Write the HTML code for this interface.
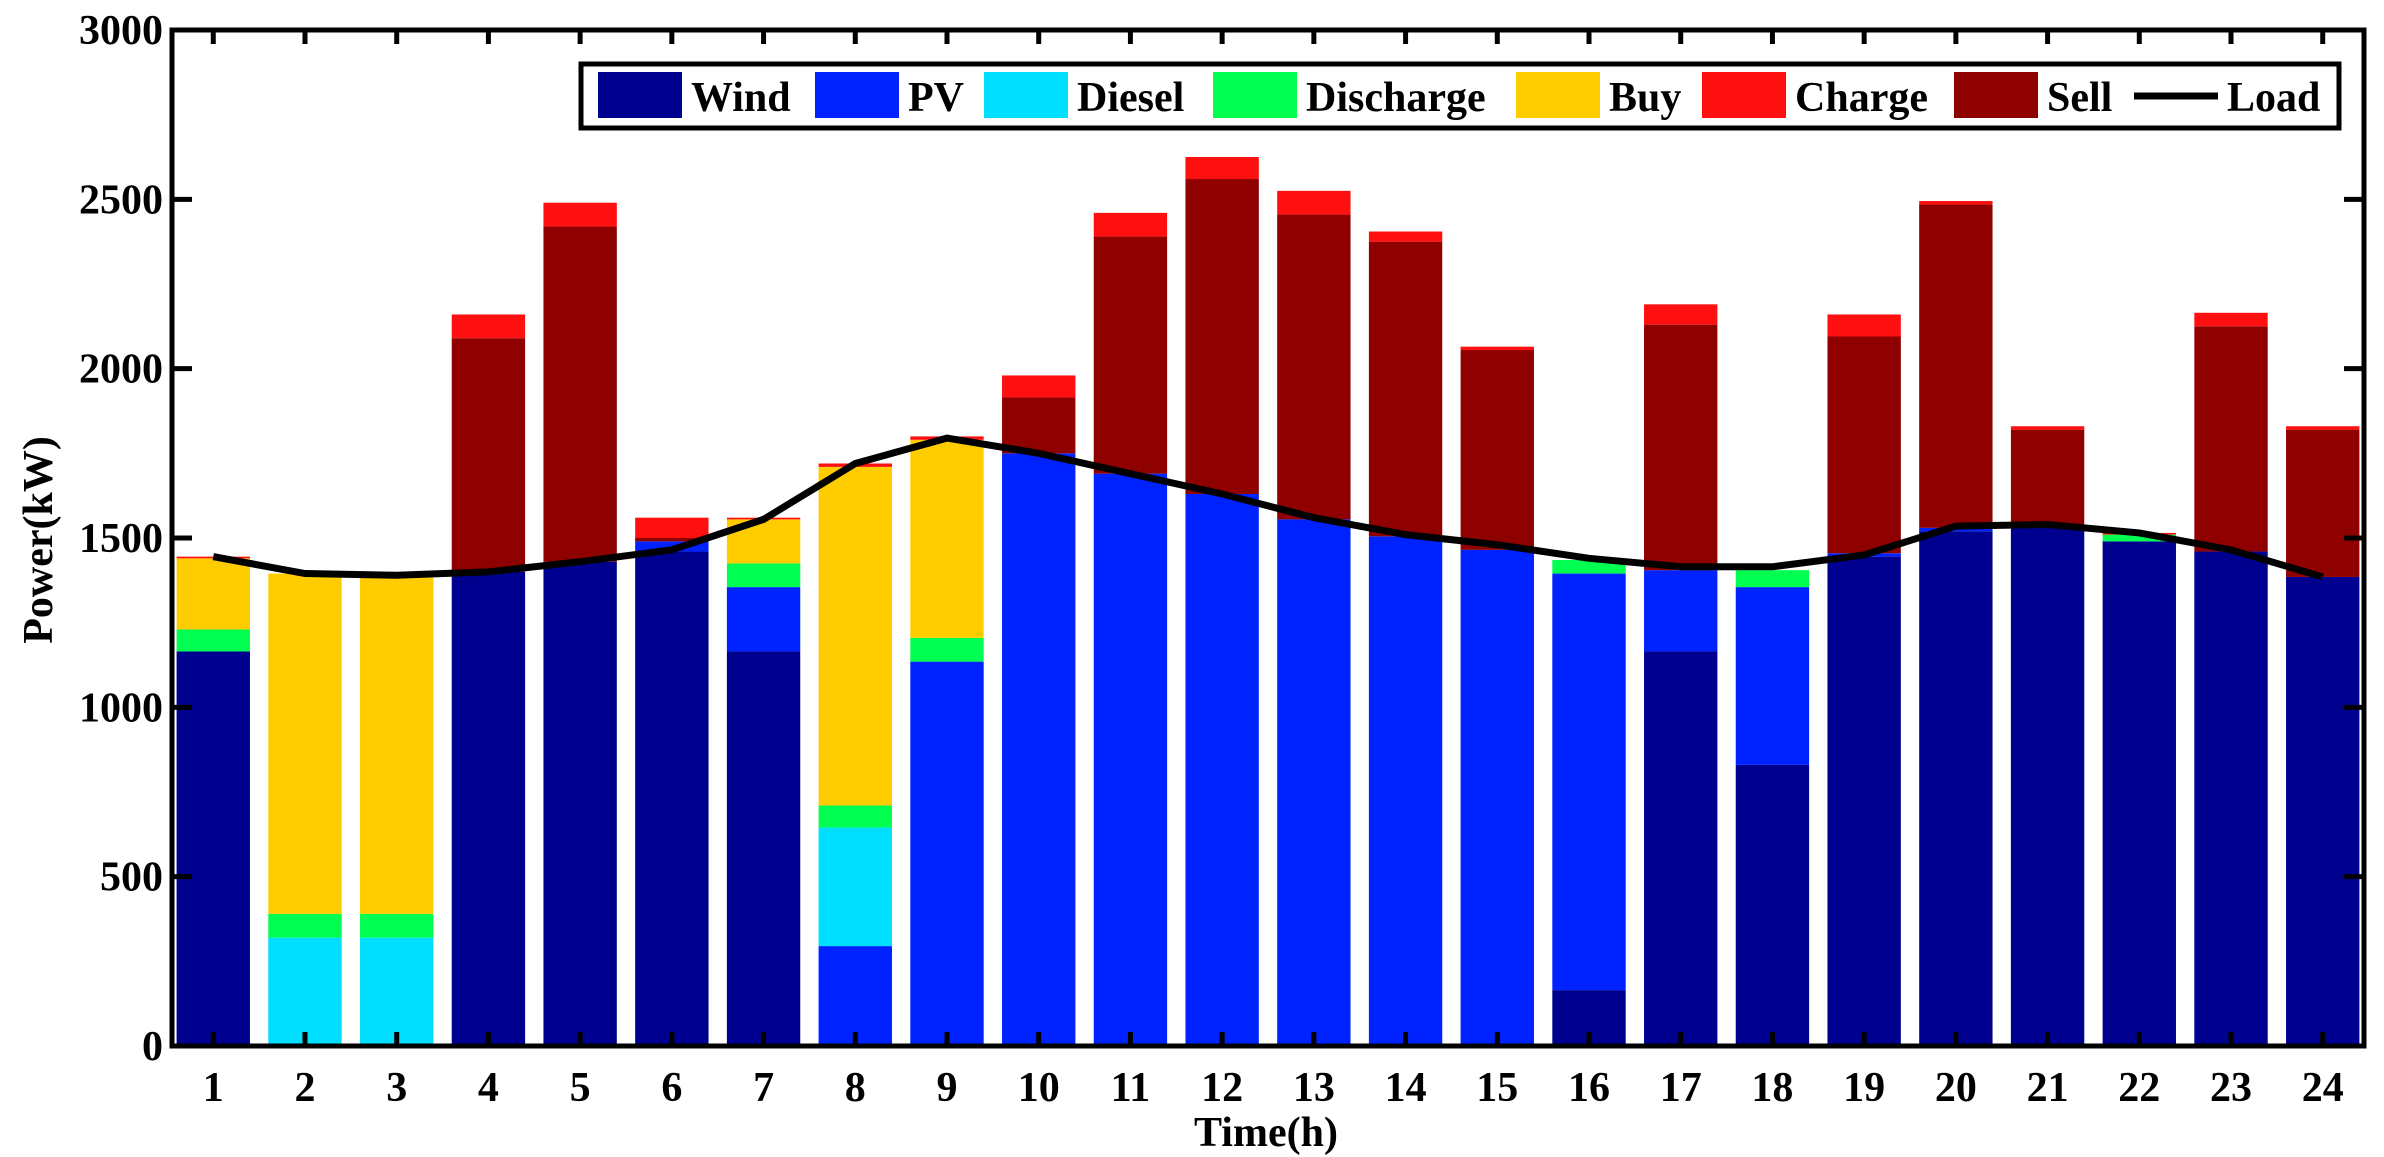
<!DOCTYPE html>
<html><head><meta charset="utf-8">
<style>
html,body{margin:0;padding:0;background:#fff;}
svg{display:block;}
text{font-family:"Liberation Serif",serif;font-weight:bold;fill:#000;}
</style></head>
<body>
<svg id="chart" width="2384" height="1157" viewBox="0 0 2384 1157" xmlns="http://www.w3.org/2000/svg">
<g id="bars"></g>
<g id="load"></g>
<g id="axes"></g>
<g id="legend"></g>
</svg>
<script>
const hours = [1,2,3,4,5,6,7,8,9,10,11,12,13,14,15,16,17,18,19,20,21,22,23,24];
const wind = [1165,0,0,1400,1430,1460,1165,0,0,0,0,0,0,0,0,165,1165,830,1445,1520,1530,1490,1460,1385];
const pv = [0,0,0,0,0,30,190,295,1135,1750,1690,1630,1555,1505,1465,1230,240,525,10,10,0,0,0,0];
const diesel = [0,320,320,0,0,0,0,350,0,0,0,0,0,0,0,0,0,0,0,0,0,0,0,0];
const discharge = [65,70,70,0,0,0,70,65,70,0,0,0,0,0,0,40,0,50,0,0,0,20,0,0];
const buy = [210,1005,1000,0,0,0,130,1000,585,0,0,0,0,0,0,0,0,0,0,0,0,0,0,0];
const sell = [0,0,0,690,990,10,0,0,0,165,700,930,900,870,590,0,725,0,640,955,290,0,665,435];
const charge = [5,0,0,70,70,60,5,10,10,65,70,65,70,30,10,0,60,0,65,10,10,5,40,10];
const load = [1445,1395,1390,1400,1430,1465,1555,1720,1795,1750,1690,1630,1560,1510,1480,1440,1415,1415,1450,1535,1540,1515,1465,1385];
const yTicks = [0,500,1000,1500,2000,2500,3000];
const seriesNames = ["Wind","PV","Diesel","Discharge","Buy","Sell","Charge"];
const seriesColors = ["#00008f","#0022ff","#00dfff","#00ff50","#ffcc00","#8f0000","#ff1010"];
const seriesData = [wind,pv,diesel,discharge,buy,sell,charge];

const NS="http://www.w3.org/2000/svg";
const L=172,R=2364,T=30,B=1046;
const xmin=0.55,xmax=24.45,ymax=3000;
const xs=v=>L+(v-xmin)/(xmax-xmin)*(R-L);
const ys=v=>B-v/ymax*(B-T);
const slot=(R-L)/(xmax-xmin);
const bw=slot*0.8;
function mk(tag,attrs,parent){const e=document.createElementNS(NS,tag);for(const k in attrs)e.setAttribute(k,attrs[k]);parent.appendChild(e);return e;}

const gb=document.getElementById('bars');
hours.forEach((h,i)=>{
  let base=0;
  seriesData.forEach((arr,s)=>{
    const v=arr[i];
    if(v>0){
      const r=mk('rect',{x:xs(h)-bw/2,y:ys(base+v),width:bw,height:ys(base)-ys(base+v),fill:seriesColors[s]},gb);
      
      
    }
    base+=v;
  });
});

const gl=document.getElementById('load');
const pl=mk('polyline',{points:hours.map((h,i)=>xs(h)+','+ys(load[i])).join(' '),fill:'none',stroke:'#000','stroke-width':7,'stroke-linejoin':'miter'},gl);



const ga=document.getElementById('axes');
const frame=mk('rect',{x:L,y:T,width:R-L,height:B-T,fill:'none',stroke:'#000','stroke-width':5},ga);


hours.forEach(h=>{
  mk('line',{x1:xs(h),x2:xs(h),y1:B,y2:B-14,stroke:'#000','stroke-width':5},ga);
  mk('line',{x1:xs(h),x2:xs(h),y1:T,y2:T+14,stroke:'#000','stroke-width':5},ga);
  const t=mk('text',{x:xs(h),y:1101,'font-size':42,'text-anchor':'middle'},ga);
  t.textContent=h;
  
  
});
yTicks.forEach(v=>{
  mk('line',{x1:L,x2:L+20,y1:ys(v),y2:ys(v),stroke:'#000','stroke-width':5},ga);
  mk('line',{x1:R,x2:R-20,y1:ys(v),y2:ys(v),stroke:'#000','stroke-width':5},ga);
  const t=mk('text',{x:163,y:ys(v)+14,'font-size':42,'text-anchor':'end'},ga);
  t.textContent=v;
  
  
});
const xt=mk('text',{x:1266,y:1146,'font-size':42,'text-anchor':'middle'},ga);
xt.textContent='Time(h)';


const yt=mk('text',{x:0,y:0,'font-size':42,'text-anchor':'middle',transform:'translate(52,540) rotate(-90)'},ga);
yt.textContent='Power(kW)';



const gleg=document.getElementById('legend');
const lb=mk('rect',{x:581,y:64,width:1758,height:64,fill:'#fff',stroke:'#000','stroke-width':5},gleg);


const legNames=["Wind","PV","Diesel","Discharge","Buy","Charge","Sell","Load"];
const legColors=["#00008f","#0022ff","#00dfff","#00ff50","#ffcc00","#ff1010","#8f0000","#000"];
const legX=[598,815,984,1213,1516,1702,1954,2134];
legNames.forEach((n,i)=>{
  if(n==='Load'){
    const ln=mk('line',{x1:legX[i],x2:legX[i]+84,y1:96,y2:96,stroke:'#000','stroke-width':7},gleg);
    
    
  } else {
    const sw=mk('rect',{x:legX[i],y:72,width:84,height:46,fill:legColors[i]},gleg);
    
    
  }
  const t=mk('text',{x:legX[i]+93,y:111,'font-size':42},gleg);
  t.textContent=n;
  
  
});
</script>
</body></html>
